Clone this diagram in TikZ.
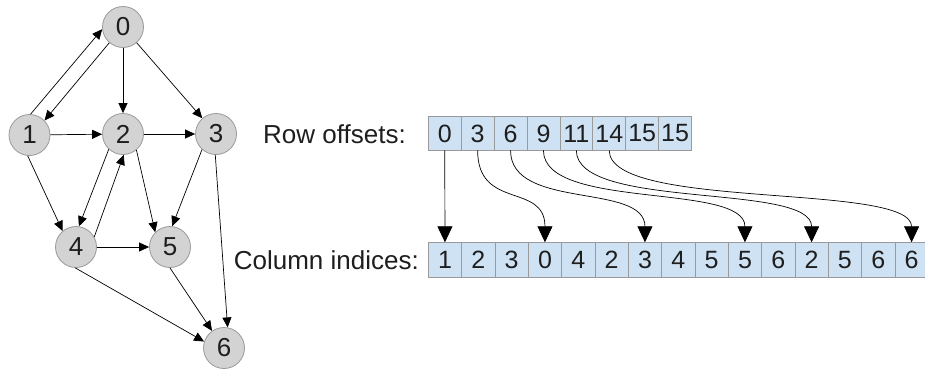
\documentclass[tikz,border=0pt]{standalone}
\usepackage{fontspec}
\setmainfont{Liberation Sans}
\usetikzlibrary{arrows.meta}
\definecolor{vertfill}{HTML}{D3D3D3}
\definecolor{vertline}{HTML}{9A9A9A}
\definecolor{cellfill}{HTML}{CFE2F3}
\definecolor{cellline}{HTML}{9A9A9A}
\definecolor{ink}{HTML}{1E1E1E}

\begin{document}
\begin{tikzpicture}[x=1pt,y=-1pt,
  vert/.style={circle, fill=vertfill, draw=vertline, line width=0.8pt,
    minimum size=41pt, inner sep=0pt, text=ink, font=\fontsize{26}{26}\selectfont},
  edge/.style={-{Triangle[length=10pt,width=9pt]}, line width=0.7pt},
  rowcell/.style={rectangle, fill=cellfill, draw=cellline, line width=0.8pt,
    minimum width=32.9pt, minimum height=33.3pt, inner sep=0pt, text=ink,
    font=\fontsize{25}{25}\selectfont},
  colcell/.style={rowcell, minimum width=33.33pt, minimum height=34.4pt},
  ptr/.style={-{Triangle[length=16pt,width=15pt]}, line width=0.7pt},
  lbl/.style={anchor=east, inner sep=0pt, text=ink, font=\fontsize{26}{26}\selectfont}
]
\useasboundingbox (0,0) rectangle (925,369);
\clip (0,0) rectangle (925,369);

% graph vertices
\node[vert] (n0) at (123,27) {0};
\node[vert] (n1) at (29.5,135) {1};
\node[vert] (n2) at (123,134) {2};
\node[vert] (n3) at (216,134) {3};
\node[vert] (n4) at (76,247) {4};
\node[vert] (n5) at (170,247) {5};
\node[vert] (n6) at (224,348) {6};

% graph edges
\draw[edge] (n1.87) -- (n0.186);
\draw[edge] (n0.229) -- (n1.44);
\draw[edge] (n0) -- (n2);
\draw[edge] (n0) -- (n3);
\draw[edge] (n1) -- (n2);
\draw[edge] (n2) -- (n3);
\draw[edge] (n1.265) -- (n4.130);
\draw[edge] (n2.227) -- (n4.82);
\draw[edge] (n4.29) -- (n2.272);
\draw[edge] (n2.310) -- (n5.135);
\draw[edge] (n3.228) -- (n5.84);
\draw[edge] (n3.268) -- (n6.80);
\draw[edge] (n4) -- (n5);
\draw[edge] (n4.268) -- (n6.162);
\draw[edge] (n5.270) -- (n6.125);

% labels
\node[lbl] (rowlab) at (406,134) {Row offsets:};
\node[lbl] (collab) at (419,260) {Column indices:};

% row offsets array
\foreach \v [count=\i from 0] in {0,3,6,9,11,14,15,15}
  \node[rowcell] (r\i) at (428.3+32.9*\i+16.45,133.4) {\v};

% column indices array
\foreach \v [count=\i from 0] in {1,2,3,0,4,2,3,4,5,5,6,2,5,6,6}
  \node[colcell] (c\i) at (428.3+33.33*\i+16.67,259.9) {\v};

% offset pointers
\draw[ptr] (r0.south) -- (c0.north);
\draw[ptr] (r1.south) .. controls +(0,60) and +(0,-60) .. (c3.north);
\draw[ptr] (r2.south) .. controls +(0,60) and +(0,-60) .. (c6.north);
\draw[ptr] (r3.south) .. controls +(0,60) and +(0,-60) .. (c9.north);
\draw[ptr] (r4.south) .. controls +(0,60) and +(0,-60) .. (c11.north);
\draw[ptr] (r5.south) .. controls +(0,60) and +(0,-60) .. (c14.north);
\end{tikzpicture}
\end{document}
